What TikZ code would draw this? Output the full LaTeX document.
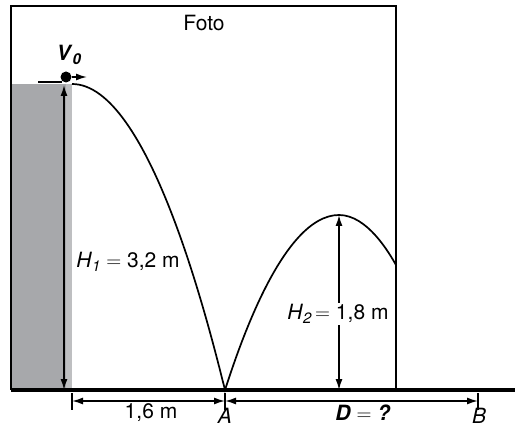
\documentclass[tikz,border=0pt]{standalone}
\usepackage{fontspec}
\setmainfont{TeX Gyre Heros}
\usetikzlibrary{arrows.meta}
\definecolor{wallgray}{RGB}{167,168,171}
\definecolor{wallgraylight}{RGB}{190,191,193}
\newcommand{\mysub}[1]{\raisebox{-0.35ex}{\fontsize{15}{15}\selectfont #1}}
\begin{document}
\begin{tikzpicture}[x=1pt,y=-1pt,
  font=\fontsize{21}{24}\selectfont,
  frameline/.style={line width=1.8pt},
  groundline/.style={line width=3.6pt},
  curveline/.style={line width=1.7pt},
  tip/.tip={Latex[length=11pt,width=7pt]},
  twoarrow/.style={line width=1.5pt, tip-tip},
  onearrow/.style={line width=1.5pt, -tip},
  tick/.style={line width=1.5pt},
  lbl/.style={inner sep=1pt}]
\useasboundingbox (0,0) rectangle (519,427);
% wall
\fill[wallgray] (11,84) rectangle (72,390);
\fill[wallgraylight] (66,84) rectangle (72,390);
% photo frame
\coordinate (FBL) at (11,390);
\coordinate (FTL) at (11,6);
\coordinate (FTR) at (396,6);
\coordinate (FBR) at (396,390);
\draw[frameline] (FBL) -- (FTL) -- (FTR) -- (FBR);
% ground
\coordinate (GL) at (11,390);
\coordinate (GR) at (515,390);
\draw[groundline] (GL) -- (GR);
\node[lbl] (foto) at (204,23) {Foto};
% ball and velocity
\node[circle, fill, inner sep=0pt, minimum size=11pt] (ball) at (66,77) {};
\coordinate (roofL) at (38,82);
\coordinate (roofR) at (62,82);
\draw[line width=1.5pt] (roofL) -- (roofR);
\coordinate (vtip) at (87,77);
\draw[onearrow] (ball.east) -- (vtip);
\node[lbl] (v0) at (69,55) {\textbf{\textit{V}}\mysub{\textbf{\textit{0}}}};
% trajectory
\coordinate (launch) at (72,84);
\coordinate (A) at (225,390);
\coordinate (peak) at (339,215);
\coordinate (endc) at (396,265);
\draw[curveline] (launch) parabola (A) parabola bend (peak) (endc);
% H1
\coordinate (h1top) at (64,85);
\coordinate (h1bot) at (64,390);
\draw[twoarrow] (h1top) -- (h1bot);
\node[lbl] (h1) at (128,262) {\textit{H}\mysub{\textit{1}} $=$ 3,2 m};
% H2
\coordinate (h2bot) at (339,390);
\draw[twoarrow] (peak) -- (h2bot);
\node[lbl, fill=white] (h2) at (338,314) {\textit{H}\mysub{\textit{2}}$\,=$ 1,8 m};
% dimensions
\coordinate (d0) at (72,401);
\coordinate (dA) at (225,401);
\coordinate (dB) at (478,401);
\draw[tick] (72,393) -- (72,410);
\draw[tick] (225,393) -- (225,410);
\draw[tick] (478,393) -- (478,410);
\draw[twoarrow] (d0) -- (dA);
\draw[twoarrow] (dA) -- (dB);
\node[lbl] (l16) at (151,413) {1,6 m};
\node[lbl, anchor=base] (lA) at (225,423) {\textit{A}};
\node[lbl, anchor=base] (lB) at (479,423) {\textit{B}};
\node[lbl] (lD) at (363,413) {\textbf{\textit{D}} $=$ \textbf{\textit{?}}};
\end{tikzpicture}
\end{document}
